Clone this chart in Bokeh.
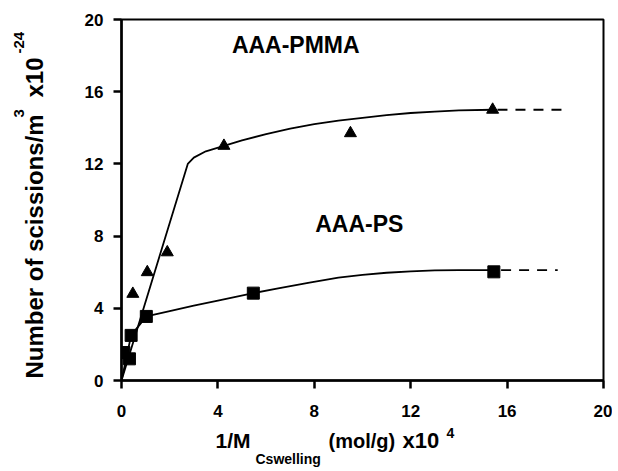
import math
from bokeh.plotting import figure
from bokeh.models import Range1d, FixedTicker, Label
from bokeh.layouts import row, column
from bokeh.embed import file_html
from bokeh.resources import INLINE
from bokeh.core.properties import value

# ---- data ----
pmma_x = [0.47, 1.07, 1.9, 4.25, 9.5, 15.4]
pmma_y = [4.8, 6.0, 7.1, 13.0, 13.7, 15.0]
ps_x = [0.1, 0.33, 0.4, 1.03, 5.47, 15.45]
ps_y = [1.55, 1.2, 2.5, 3.55, 4.84, 6.02]

pmma_fit_x = [0, 2.75, 3.0, 3.5, 4.25, 5, 6, 7, 8, 9, 10, 11, 12, 13, 14, 15.4]
pmma_fit_y = [0, 12.0, 12.35, 12.7, 13.0, 13.3, 13.65, 13.95, 14.2, 14.4, 14.55, 14.7, 14.82, 14.9, 14.97, 15.0]
pmma_ext_x = [15.6, 18.5]
pmma_ext_y = [15.0, 15.0]

ps_fit_x = [0, 0.4, 1.03, 2, 3, 4, 5.47, 6.5, 7.8, 9, 10, 11, 12, 13, 14, 15.45]
ps_fit_y = [0, 2.5, 3.55, 3.85, 4.15, 4.43, 4.84, 5.1, 5.42, 5.7, 5.85, 5.97, 6.05, 6.1, 6.12, 6.12]
ps_ext_x = [15.75, 18.1]
ps_ext_y = [6.12, 6.12]

ticks = [0, 4, 8, 12, 16, 20]
series_labels = ["AAA-PMMA", "AAA-PS"]

FONT = "Liberation Sans"

# ---------------- main plot ----------------
p = figure(width=552, height=420, output_backend="svg", toolbar_location=None,
           x_range=Range1d(0, 20), y_range=Range1d(0, 20),
           min_border_left=61, min_border_right=9, min_border_top=19, min_border_bottom=40)
p.grid.visible = False
p.background_fill_color = "white"
p.border_fill_color = "white"
p.outline_line_color = "black"
p.outline_line_width = 2
p.outline_line_alpha = 1

for ax in (p.xaxis, p.yaxis):
    ax.ticker = FixedTicker(ticks=ticks)
    ax.major_tick_out = 8
    ax.major_tick_in = 0
    ax.minor_tick_out = 0
    ax.minor_tick_in = 0
    ax.axis_line_width = 2.5
    ax.major_tick_line_width = 2.5
    ax.axis_line_color = "black"
    ax.major_tick_line_color = "black"
    ax.major_label_text_font = FONT
    ax.major_label_text_font_style = "bold"
    ax.major_label_text_font_size = "17px"
    ax.major_label_text_color = "black"
p.xaxis.major_label_standoff = 16
p.yaxis.major_label_standoff = 10

# fitted curves
p.line(pmma_fit_x, pmma_fit_y, line_color="black", line_width=1.8)
p.line(pmma_ext_x, pmma_ext_y, line_color="black", line_width=1.8, line_dash="10 8")
p.line(ps_fit_x, ps_fit_y, line_color="black", line_width=1.8)
p.line(ps_ext_x, ps_ext_y, line_color="black", line_width=1.8, line_dash="10 8")

# data markers
p.scatter(pmma_x, pmma_y, marker="triangle", size=12, fill_color="black", line_color="black")
p.scatter(ps_x, ps_y, marker="square", size=12, fill_color="black", line_color="black")

# series labels
p.add_layout(Label(x=4.58, y=18.6, text=series_labels[0], text_font=FONT, text_font_style="bold",
                   text_font_size="23px", text_baseline="alphabetic", text_align="left",
                   text_color="black"))
p.add_layout(Label(x=8.04, y=8.65, text=series_labels[1], text_font=FONT, text_font_style="bold",
                   text_font_size="23px", text_baseline="alphabetic", text_align="left",
                   text_color="black"))


def side_fig(w, h, xr, yr):
    f = figure(width=w, height=h, output_backend="svg", toolbar_location=None,
               x_range=Range1d(*xr), y_range=Range1d(*yr),
               x_axis_type=None, y_axis_type=None, min_border=0)
    f.grid.visible = False
    f.outline_line_color = None
    f.background_fill_color = "white"
    f.border_fill_color = "white"
    return f


def txt(f, x, y, t, size, angle=0.0):
    f.text(x=[x], y=[y], text=[t], text_font=value(FONT), text_font_style="bold",
           text_font_size=value(size), text_align="left", text_baseline="alphabetic",
           text_color="black", angle=angle)


# ---------------- y axis title (left strip, page pixel coords, y measured up from 470) ----------------
ly = side_fig(60, 470, (0, 60), (0, 470))
a = math.pi / 2
txt(ly, 34, 470 - 378, "Number of scissions/m", "24px", a)
txt(ly, 18, 470 - 117, "3", "15px", a)
txt(ly, 34, 470 - 97, "x10", "24px", a)
txt(ly, 18, 470 - 53, "-24", "15px", a)

# ---------------- x axis title (bottom strip; its frame lines up with the main frame) ----------------
lx = side_fig(552, 50, (121, 603), (0, 50))
txt(lx, 215, 470 - 440, "1/M", "21px")
txt(lx, 255, 470 - 458, "Cswelling", "14px")
txt(lx, 328, 470 - 440, "(mol/g)", "20px")
txt(lx, 402, 470 - 440, "x10", "22px")
txt(lx, 446, 470 - 432, "4", "14px")

layout = row(ly, column(p, lx))

open("out.html", "w").write(file_html(layout, INLINE))
